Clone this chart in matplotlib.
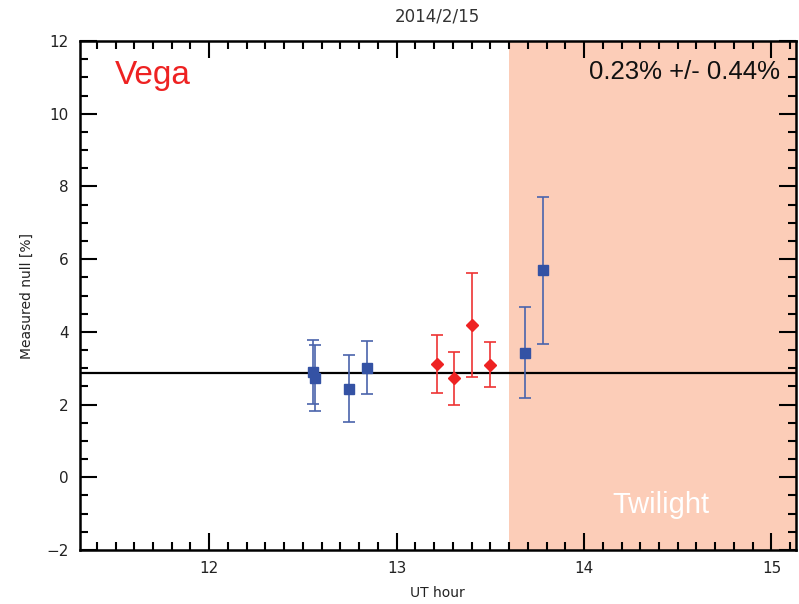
import matplotlib
matplotlib.use("Agg")
import matplotlib.pyplot as plt
from matplotlib.ticker import MultipleLocator

# blue squares
blue_t = [12.556, 12.562, 12.745, 12.84, 13.686, 13.78]
blue_null = [2.89, 2.73, 2.44, 3.01, 3.43, 5.69]
blue_err = [0.88, 0.90, 0.93, 0.73, 1.26, 2.02]

# red diamonds
red_t = [13.214, 13.307, 13.40, 13.496]
red_null = [3.12, 2.73, 4.20, 3.10]
red_err = [0.80, 0.73, 1.43, 0.62]

mean_null = 2.86
twilight_start = 13.6

fig = plt.figure(figsize=(7.99, 6.04), dpi=100)
ax = fig.add_axes([0.1, 0.0894, 0.896, 0.8426])

ax.axvspan(twilight_start, 15.2, color='#fccdb8', lw=0, zorder=0)
ax.axhline(mean_null, color='black', lw=1.6, zorder=1)

ax.errorbar(blue_t, blue_null, yerr=blue_err, fmt='s', color='#3452a4',
            ecolor='#4a64ac', elinewidth=1.2, capsize=4, capthick=1.2,
            markersize=7, zorder=3)
ax.errorbar(red_t, red_null, yerr=red_err, fmt='D', color='#ee2222',
            ecolor='#ee3333', elinewidth=1.2, capsize=4, capthick=1.2,
            markersize=6, zorder=3)

ax.set_xlim(11.31, 15.13)
ax.set_ylim(-2, 12)
ax.xaxis.set_major_locator(MultipleLocator(1))
ax.xaxis.set_minor_locator(MultipleLocator(0.1))
ax.yaxis.set_major_locator(MultipleLocator(2))
ax.yaxis.set_minor_locator(MultipleLocator(0.5))
ax.tick_params(which='both', direction='in', top=True, right=True,
               labelsize=11, colors='black', labelcolor='#222222', width=1.5)
ax.tick_params(which='major', length=12, pad=8)
ax.tick_params(which='minor', length=6)
for s in ax.spines.values():
    s.set_linewidth(1.8)

ax.set_xlabel('UT hour', fontsize=10, color='#222222', labelpad=7)
ax.set_ylabel('Measured null [%]', fontsize=10, color='#222222', labelpad=9)
ax.set_title('2014/2/15', fontsize=12, color='#333333', pad=14)

ax.text(11.497, 11.04, 'Vega', color='#ee2222',
        fontsize=24, family='Liberation Sans', va='center', ha='left')
ax.text(0.978, 0.94, '0.23% +/- 0.44%', transform=ax.transAxes,
        color='#111111', fontsize=18.5, family='Liberation Sans',
        va='center', ha='right')
ax.text(14.41, -0.75, 'Twilight', color='white', fontsize=21,
        family='Liberation Sans', va='center', ha='center')

fig.savefig('out.png', dpi=100)
